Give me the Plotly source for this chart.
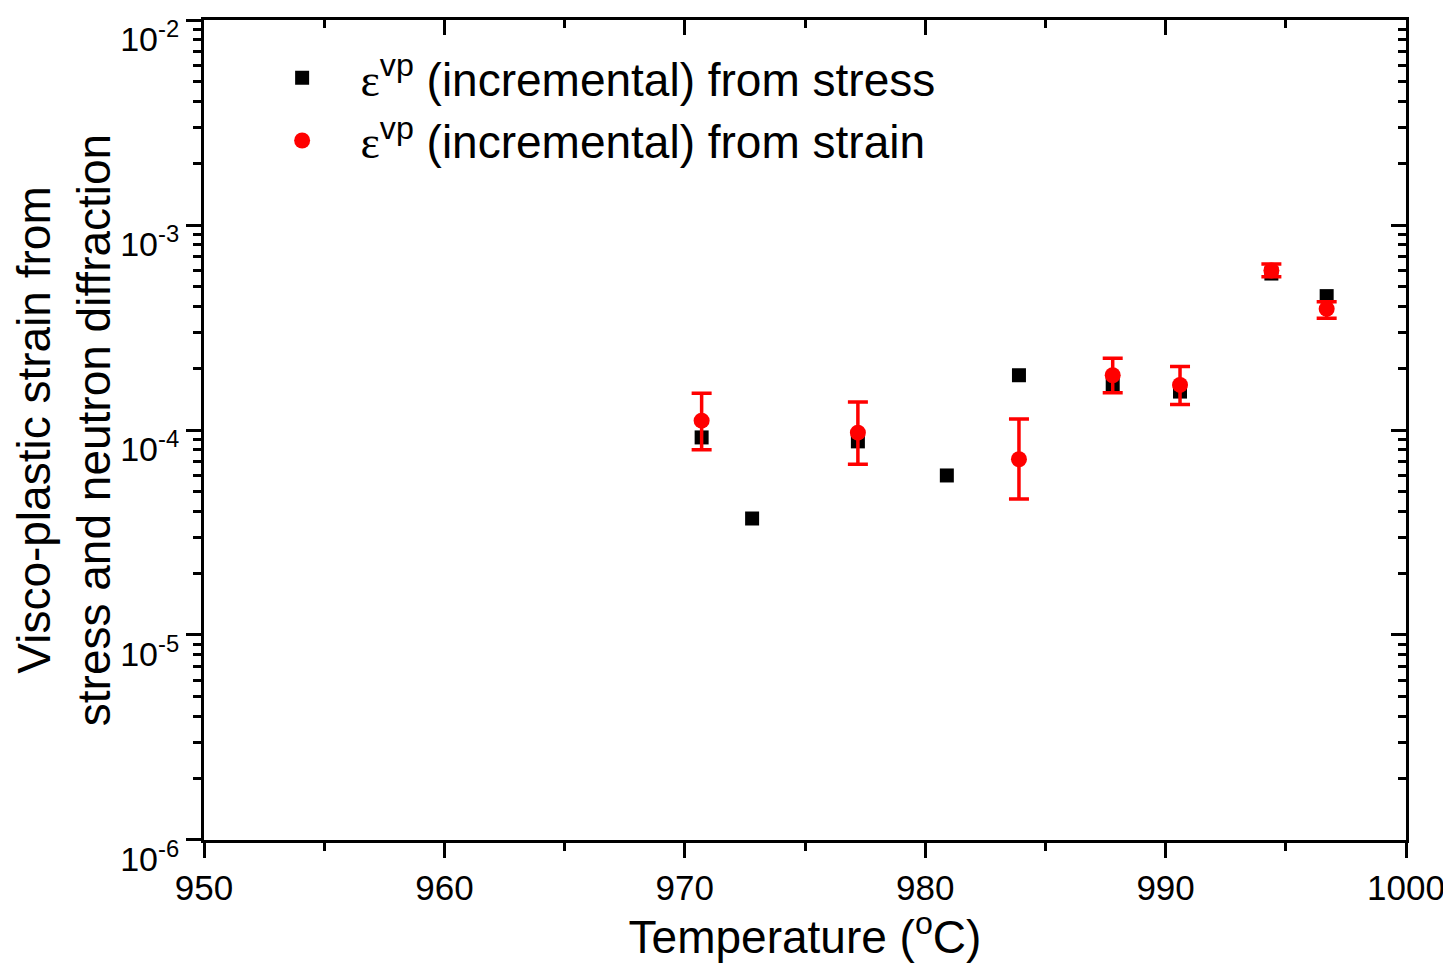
import plotly.graph_objects as go

# Data
temp_stress = [970.7, 972.8, 977.2, 980.9, 983.9, 987.8, 990.6, 994.4, 996.7]
strain_stress = [9.2e-5, 3.7e-5, 8.8e-5, 6.0e-5, 1.85e-4, 1.66e-4, 1.54e-4, 5.8e-4, 4.5e-4]

temp_strain = [970.7, 977.2, 983.9, 987.8, 990.6, 994.4, 996.7]
strain_strain = [1.11e-4, 9.7e-5, 7.2e-5, 1.85e-4, 1.66e-4, 6.0e-4, 3.9e-4]
err_plus = [4.0e-5, 4.0e-5, 4.1e-5, 3.9e-5, 3.8e-5, 4.6e-5, 3.3e-5]
err_minus = [3.1e-5, 2.9e-5, 2.6e-5, 3.3e-5, 3.3e-5, 4.0e-5, 3.9e-5]

x_ticks = [950, 960, 970, 980, 990, 1000]
y_tickvals = [1e-6, 1e-5, 1e-4, 1e-3, 1e-2]
y_ticktext = ["10<sup>-6</sup>", "10<sup>-5</sup>", "10<sup>-4</sup>", "10<sup>-3</sup>", "10<sup>-2</sup>"]

FONT = "Liberation Sans, Arial, sans-serif"
eps = "<span style='font-family:Liberation Serif, Times New Roman, serif'>ε</span><sup>vp</sup>"

fig = go.Figure()
fig.add_trace(go.Scatter(
    x=temp_stress, y=strain_stress, mode="markers",
    marker=dict(symbol="square", size=14, color="black"),
    name="   " + eps + " (incremental) from stress",
))
fig.add_trace(go.Scatter(
    x=temp_strain, y=strain_strain, mode="markers",
    marker=dict(symbol="circle", size=16, color="#ff0000"),
    error_y=dict(type="data", symmetric=False, array=err_plus, arrayminus=err_minus,
                 color="#ff0000", thickness=3.5, width=10),
    name="   " + eps + " (incremental) from strain",
))
# invisible companion trace so the mirrored top/right axes are drawn
fig.add_trace(go.Scatter(
    x=temp_stress, y=strain_stress, xaxis="x2", yaxis="y2", mode="markers",
    marker=dict(opacity=0), showlegend=False, hoverinfo="skip",
))

axis_common = dict(showline=True, linecolor="black", linewidth=3, showgrid=False,
                   zeroline=False, tickcolor="black", tickwidth=3, automargin=False)

YR = [-6.0005, -1.9995]

fig.update_layout(
    width=1443, height=955,
    margin=dict(l=196, r=45, t=12, b=123, autoexpand=False),
    paper_bgcolor="white", plot_bgcolor="white",
    font=dict(family=FONT, color="black"),
    showlegend=True,
    legend=dict(x=0.065, y=0.974, xanchor="left", yanchor="top",
                bgcolor="rgba(0,0,0,0)", font=dict(size=46, family=FONT),
                tracegroupgap=0, itemwidth=30),
    xaxis=dict(range=[950, 1000], tickvals=x_ticks, ticks="outside", ticklen=15,
               tickfont=dict(size=35), ticklabeloverflow="allow",
               minor=dict(dtick=5, ticks="outside", ticklen=8, tickcolor="black", tickwidth=3),
               title=dict(text="Temperature (<sup>o</sup>C)", font=dict(size=46), standoff=8),
               **axis_common),
    yaxis=dict(type="log", range=YR, tickvals=y_tickvals, ticktext=y_ticktext,
               ticks="outside", ticklen=15, tickfont=dict(size=34), ticklabeloverflow="allow",
               ticklabelshift=19,
               minor=dict(ticks="outside", ticklen=8, tickcolor="black", tickwidth=3, dtick="D1"),
               title=dict(text="Visco-plastic strain from<br>stress and neutron diffraction",
                          font=dict(size=46), standoff=20),
               **axis_common),
    xaxis2=dict(overlaying="x", side="top", range=[950, 1000], tickvals=x_ticks,
                ticks="inside", ticklen=15, showticklabels=False,
                minor=dict(dtick=5, ticks="inside", ticklen=8, tickcolor="black", tickwidth=3),
                **axis_common),
    yaxis2=dict(overlaying="y", side="right", type="log", range=YR, tickvals=y_tickvals,
                ticks="inside", ticklen=15, showticklabels=False,
                minor=dict(ticks="inside", ticklen=8, tickcolor="black", tickwidth=3, dtick="D1"),
                **axis_common),
)

fig.write_html("out.html")
